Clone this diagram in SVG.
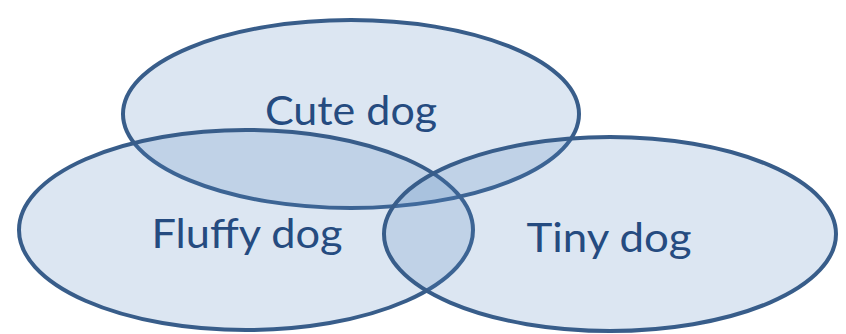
<svg xmlns="http://www.w3.org/2000/svg" width="846" height="334" viewBox="0 0 846 334">
  <style>
    .set { fill: #4f81bd; fill-opacity: 0.2; stroke: #385d8a; stroke-width: 4; }
    .lbl { font-family: Lato, "Open Sans", "Liberation Sans", sans-serif; font-size: 41px; fill: #254b80; text-anchor: middle; }
  </style>
  <rect width="846" height="334" fill="#ffffff"/>
  <g id="cute">
    <ellipse class="set" cx="351" cy="114" rx="228" ry="94"/>
  </g>
  <g id="fluffy">
    <ellipse class="set" cx="246" cy="230" rx="227" ry="100"/>
  </g>
  <g id="tiny">
    <ellipse class="set" cx="610" cy="234" rx="226" ry="97"/>
  </g>
  <g id="labels">
    <text class="lbl" x="351" y="125" textLength="172" lengthAdjust="spacingAndGlyphs">Cute dog</text>
    <text class="lbl" x="247" y="248" textLength="191" lengthAdjust="spacingAndGlyphs">Fluffy dog</text>
    <text class="lbl" x="609" y="252" textLength="165" lengthAdjust="spacingAndGlyphs">Tiny dog</text>
  </g>
</svg>
